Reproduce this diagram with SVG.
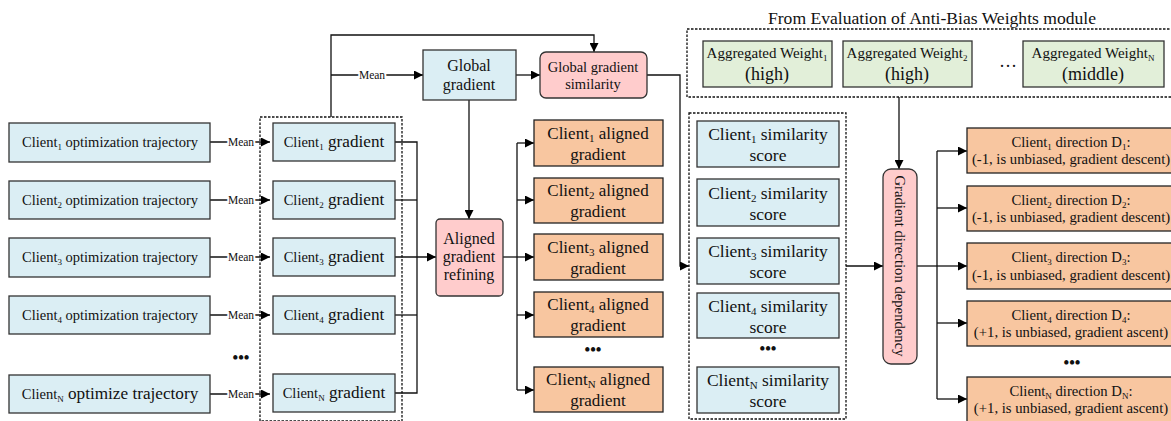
<svg xmlns="http://www.w3.org/2000/svg" width="1171" height="421" viewBox="0 0 1171 421" font-family="'Liberation Serif', 'Times New Roman', serif">
<defs>
<marker id="arr" viewBox="0 0 10 10" refX="10" refY="5" markerWidth="9" markerHeight="9" markerUnits="userSpaceOnUse" orient="auto">
<path d="M0,0 L10,5 L0,10 z" fill="#000"/>
</marker>
<style>
text{font-family:'Liberation Serif','Times New Roman',serif;fill:#111;text-anchor:middle}
.blue{fill:#dbeef4;stroke:#333;stroke-width:1.3}
.pink{fill:#ffcccc;stroke:#333;stroke-width:1.3}
.orange{fill:#f8c6a0;stroke:#222;stroke-width:1.3}
.green{fill:#e2efd9;stroke:#333;stroke-width:1.3}
.dot{fill:none;stroke:#111;stroke-width:1.3;stroke-dasharray:2.5 1.5}
.ln{fill:none;stroke:#111;stroke-width:1.3}
.ar{marker-end:url(#arr)}
.mean{font-size:11.5px;stroke:#fff;stroke-width:4px;paint-order:stroke}
.tr{font-size:14.5px}
.gr{font-size:14.5px}
.al{font-size:17px}
.sm{font-size:17.5px}
.dr{font-size:14.7px}
.dots{font-size:16px;font-weight:bold}
</style>
</defs>

<rect class="dot" x="260" y="117" width="142" height="304"/>
<rect class="dot" x="689" y="113" width="157" height="306"/>
<rect class="dot" x="687" y="29" width="490" height="68"/>
<text x="932" y="24" style="font-size:17.6px">From Evaluation of Anti-Bias Weights module</text>

<g id="connectors">
<line class="ln ar" x1="210" y1="142" x2="270" y2="142"/>
<line class="ln ar" x1="210" y1="200" x2="270" y2="200"/>
<line class="ln ar" x1="210" y1="257" x2="270" y2="257"/>
<line class="ln ar" x1="210" y1="315" x2="270" y2="315"/>
<line class="ln ar" x1="210" y1="394" x2="270" y2="394"/>
<text class="mean" x="241" y="146">Mean</text>
<text class="mean" x="241" y="204">Mean</text>
<text class="mean" x="241" y="261">Mean</text>
<text class="mean" x="241" y="319">Mean</text>
<text class="mean" x="241" y="398">Mean</text>
<polyline class="ln ar" points="331,117 331,35 594,35 594,52"/>
<line class="ln ar" x1="331" y1="75" x2="423" y2="75"/>
<text class="mean" x="372" y="79">Mean</text>
<line class="ln ar" x1="516" y1="75" x2="540" y2="75"/>
<line class="ln ar" x1="469" y1="100" x2="469" y2="219"/>
<polyline class="ln" points="395,142 417,142 417,393 395,393"/>
<line class="ln" x1="395" y1="200" x2="417" y2="200"/>
<line class="ln" x1="395" y1="315" x2="417" y2="315"/>
<line class="ln ar" x1="395" y1="257" x2="436" y2="257"/>
<line class="ln" x1="503" y1="257" x2="517" y2="257"/>
<line class="ln" x1="517" y1="143" x2="517" y2="390"/>
<line class="ln ar" x1="517" y1="143" x2="534" y2="143"/>
<line class="ln ar" x1="517" y1="200" x2="534" y2="200"/>
<line class="ln ar" x1="517" y1="257" x2="534" y2="257"/>
<line class="ln ar" x1="517" y1="315" x2="534" y2="315"/>
<line class="ln ar" x1="517" y1="390" x2="534" y2="390"/>
<polyline class="ln ar" points="647,75 680,75 680,266 689,266"/>
<line class="ln ar" x1="846" y1="266" x2="883" y2="266"/>
<line class="ln ar" x1="899" y1="97" x2="899" y2="169"/>
<line class="ln" x1="917" y1="266" x2="937" y2="266"/>
<line class="ln" x1="937" y1="151" x2="937" y2="399"/>
<line class="ln ar" x1="937" y1="151" x2="967" y2="151"/>
<line class="ln ar" x1="937" y1="208" x2="967" y2="208"/>
<line class="ln ar" x1="937" y1="266" x2="967" y2="266"/>
<line class="ln ar" x1="937" y1="323" x2="967" y2="323"/>
<line class="ln ar" x1="937" y1="399" x2="967" y2="399"/>
</g>

<g id="traj1"><rect class="blue" x="9" y="123" width="201" height="39"/>
<text class="tr" x="110" y="147">Client<tspan font-size="9" dy="3">1</tspan><tspan dy="-3"> optimization trajectory</tspan></text></g>
<g id="traj2"><rect class="blue" x="9" y="181" width="201" height="38"/>
<text class="tr" x="110" y="205">Client<tspan font-size="9" dy="3">2</tspan><tspan dy="-3"> optimization trajectory</tspan></text></g>
<g id="traj3"><rect class="blue" x="9" y="238" width="201" height="39"/>
<text class="tr" x="110" y="262">Client<tspan font-size="9" dy="3">3</tspan><tspan dy="-3"> optimization trajectory</tspan></text></g>
<g id="traj4"><rect class="blue" x="9" y="296" width="201" height="38"/>
<text class="tr" x="110" y="320">Client<tspan font-size="9" dy="3">4</tspan><tspan dy="-3"> optimization trajectory</tspan></text></g>
<text class="dots" x="241" y="363">•••</text>
<g id="trajN"><rect class="blue" x="9" y="375" width="201" height="38"/>
<text class="tr" x="110" y="399">Client<tspan font-size="9" dy="3">N</tspan><tspan dy="-3" font-size="17.2"> optimize trajectory</tspan></text></g>

<g id="grad1"><rect class="blue" x="273" y="123" width="122" height="38"/>
<text class="gr" x="334" y="147">Client<tspan font-size="9" dy="3">1</tspan><tspan dy="-3" font-size="17.2"> gradient</tspan></text></g>
<g id="grad2"><rect class="blue" x="273" y="181" width="122" height="38"/>
<text class="gr" x="334" y="205">Client<tspan font-size="9" dy="3">2</tspan><tspan dy="-3" font-size="17.2"> gradient</tspan></text></g>
<g id="grad3"><rect class="blue" x="273" y="238" width="122" height="38"/>
<text class="gr" x="334" y="262">Client<tspan font-size="9" dy="3">3</tspan><tspan dy="-3" font-size="17.2"> gradient</tspan></text></g>
<g id="grad4"><rect class="blue" x="273" y="296" width="122" height="38"/>
<text class="gr" x="334" y="320">Client<tspan font-size="9" dy="3">4</tspan><tspan dy="-3" font-size="17.2"> gradient</tspan></text></g>
<g id="gradN"><rect class="blue" x="273" y="374" width="122" height="38"/>
<text class="gr" x="334" y="398">Client<tspan font-size="9" dy="3">N</tspan><tspan dy="-3" font-size="17.2"> gradient</tspan></text></g>

<g id="global"><rect class="blue" x="423" y="50" width="93" height="50"/>
<text x="469" y="71" font-size="16">Global</text><text x="469" y="90" font-size="16">gradient</text></g>
<g id="globalsim"><rect class="pink" x="540" y="52" width="107" height="46" rx="6"/>
<text x="593" y="72" font-size="14.5">Global gradient</text><text x="593" y="89" font-size="14.5">similarity</text></g>
<g id="refine"><rect class="pink" x="436" y="219" width="67" height="77" rx="4"/>
<text x="469" y="244" font-size="16">Aligned</text><text x="469" y="262" font-size="16">gradient</text><text x="469" y="280" font-size="16">refining</text></g>

<g id="al1"><rect class="orange" x="534" y="120" width="129" height="46"/>
<text class="al" x="598" y="139">Client<tspan font-size="11" dy="3">1</tspan><tspan dy="-3"> aligned</tspan></text><text class="al" x="598" y="160">gradient</text></g>
<g id="al2"><rect class="orange" x="534" y="178" width="129" height="45"/>
<text class="al" x="598" y="196">Client<tspan font-size="11" dy="3">2</tspan><tspan dy="-3"> aligned</tspan></text><text class="al" x="598" y="217">gradient</text></g>
<g id="al3"><rect class="orange" x="534" y="234" width="129" height="46"/>
<text class="al" x="598" y="253">Client<tspan font-size="11" dy="3">3</tspan><tspan dy="-3"> aligned</tspan></text><text class="al" x="598" y="274">gradient</text></g>
<g id="al4"><rect class="orange" x="534" y="292" width="129" height="45"/>
<text class="al" x="598" y="310">Client<tspan font-size="11" dy="3">4</tspan><tspan dy="-3"> aligned</tspan></text><text class="al" x="598" y="331">gradient</text></g>
<text class="dots" x="593" y="355">•••</text>
<g id="alN"><rect class="orange" x="534" y="367" width="129" height="45"/>
<text class="al" x="598" y="385">Client<tspan font-size="11" dy="3">N</tspan><tspan dy="-3"> aligned</tspan></text><text class="al" x="598" y="406">gradient</text></g>

<g id="sim1"><rect class="blue" x="697" y="121" width="142" height="46"/>
<text class="sm" x="768" y="140">Client<tspan font-size="11" dy="3">1</tspan><tspan dy="-3"> similarity</tspan></text><text class="sm" x="768" y="161">score</text></g>
<g id="sim2"><rect class="blue" x="697" y="179" width="142" height="47"/>
<text class="sm" x="768" y="199">Client<tspan font-size="11" dy="3">2</tspan><tspan dy="-3"> similarity</tspan></text><text class="sm" x="768" y="220">score</text></g>
<g id="sim3"><rect class="blue" x="697" y="238" width="142" height="46"/>
<text class="sm" x="768" y="257">Client<tspan font-size="11" dy="3">3</tspan><tspan dy="-3"> similarity</tspan></text><text class="sm" x="768" y="278">score</text></g>
<g id="sim4"><rect class="blue" x="697" y="293" width="142" height="45"/>
<text class="sm" x="768" y="312">Client<tspan font-size="11" dy="3">4</tspan><tspan dy="-3"> similarity</tspan></text><text class="sm" x="768" y="333">score</text></g>
<text class="dots" x="768" y="354">•••</text>
<g id="simN"><rect class="blue" x="697" y="367" width="142" height="46"/>
<text class="sm" x="768" y="386">Client<tspan font-size="11" dy="3">N</tspan><tspan dy="-3"> similarity</tspan></text><text class="sm" x="768" y="407">score</text></g>

<g id="w1"><rect class="green" x="703" y="41" width="129" height="46"/>
<text x="767" y="58" font-size="15">Aggregated Weight<tspan font-size="9" dy="3">1</tspan></text><text x="767" y="80" font-size="18">(high)</text></g>
<g id="w2"><rect class="green" x="843" y="41" width="129" height="46"/>
<text x="907" y="58" font-size="15">Aggregated Weight<tspan font-size="9" dy="3">2</tspan></text><text x="907" y="80" font-size="18">(high)</text></g>
<text x="1008" y="72" font-size="18">···</text>
<g id="wN"><rect class="green" x="1023" y="41" width="141" height="46"/>
<text x="1093" y="58" font-size="15">Aggregated Weight<tspan font-size="9" dy="3">N</tspan></text><text x="1093" y="80" font-size="18">(middle)</text></g>

<g id="dep"><rect class="pink" x="883" y="169" width="34" height="195" rx="8"/>
<text transform="translate(900,266) rotate(90)" y="5" font-size="14.7">Gradient direction dependency</text></g>

<g id="d1"><rect class="orange" x="967" y="128" width="210" height="45"/>
<text class="dr" x="1071" y="147">Client<tspan font-size="9" dy="3">1</tspan><tspan dy="-3"> direction D</tspan><tspan font-size="9" dy="3">1</tspan><tspan dy="-3">:</tspan></text>
<text class="dr" x="1071" y="164">(-1, is unbiased, gradient descent)</text></g>
<g id="d2"><rect class="orange" x="967" y="186" width="210" height="45"/>
<text class="dr" x="1071" y="205">Client<tspan font-size="9" dy="3">2</tspan><tspan dy="-3"> direction D</tspan><tspan font-size="9" dy="3">2</tspan><tspan dy="-3">:</tspan></text>
<text class="dr" x="1071" y="222">(-1, is unbiased, gradient descent)</text></g>
<g id="d3"><rect class="orange" x="967" y="243" width="210" height="46"/>
<text class="dr" x="1071" y="262">Client<tspan font-size="9" dy="3">3</tspan><tspan dy="-3"> direction D</tspan><tspan font-size="9" dy="3">3</tspan><tspan dy="-3">:</tspan></text>
<text class="dr" x="1071" y="280">(-1, is unbiased, gradient descent)</text></g>
<g id="d4"><rect class="orange" x="967" y="301" width="210" height="45"/>
<text class="dr" x="1071" y="320">Client<tspan font-size="9" dy="3">4</tspan><tspan dy="-3"> direction D</tspan><tspan font-size="9" dy="3">4</tspan><tspan dy="-3">:</tspan></text>
<text class="dr" x="1071" y="337">(+1, is unbiased, gradient ascent)</text></g>
<text class="dots" x="1072" y="368">•••</text>
<g id="dN"><rect class="orange" x="967" y="377" width="210" height="46"/>
<text class="dr" x="1071" y="396">Client<tspan font-size="9" dy="3">N</tspan><tspan dy="-3"> direction D</tspan><tspan font-size="9" dy="3">N</tspan><tspan dy="-3">:</tspan></text>
<text class="dr" x="1071" y="413">(+1, is unbiased, gradient ascent)</text></g>
</svg>
